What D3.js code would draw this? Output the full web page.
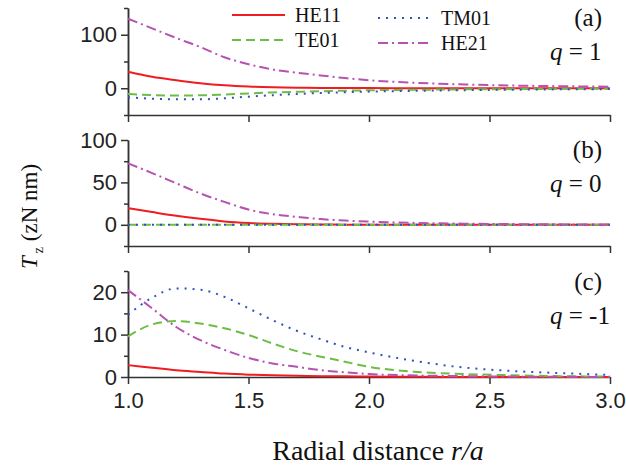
<!DOCTYPE html>
<html>
<head>
<meta charset="utf-8">
<script src="https://cdn.jsdelivr.net/npm/d3@7"></script>
<style>
	body { margin: 0; background: #fff; }
	svg { display: block; }
	.axis path, .axis line { stroke: #333; stroke-width: 1.5; }
	.axis text { font-family: "Liberation Sans", Arial, sans-serif; font-size: 22px; fill: #222; }
	.serif { font-family: "Liberation Serif", "Times New Roman", serif; fill: #111; }
	.curve { fill: none; stroke-width: 2; }
</style>
</head>
<body>
<svg id="chart" width="626" height="468"></svg>
<script>
// радиальная сетка, на которой снимались значения
var rVals = [1.0, 1.1, 1.2, 1.3, 1.4, 1.5, 1.6, 1.7, 1.8, 1.9, 2.0, 2.2, 2.4, 2.6, 2.8, 3.0];

var seriesNames = ["HE11", "TE01", "TM01", "HE21"];
var panelLetters = ["(a)", "(b)", "(c)"];
var qLabels = ["1", "0", "-1"];
var xTicks = [1.0, 1.5, 2.0, 2.5, 3.0];

// (a) q = 1
var he11A = [31, 21.5, 15, 9.5, 5.6, 3.2, 1.8, 1.1, 0.7, 0.4, 0.3, 0.1, 0, 0, 0, 0];
var te01A = [-10.6, -12.8, -13.6, -13.2, -11.7, -9.8, -7.8, -6.6, -5.6, -4.6, -3.7, -2.8, -2.1, -1.6, -1.2, -1];
var tm01A = [-17, -19.5, -20.6, -20.6, -18.8, -15.7, -13, -10.7, -8.8, -7.5, -6.3, -4.7, -3.6, -2.7, -2, -1.6];
var he21A = [130, 112, 94, 77, 58, 45, 35, 29, 24, 19, 15, 10, 7, 5, 3.8, 3];
var yDomainA = [-50, 150], majorA = [0, 100], minorA = [-50, 50, 150];

// (b) q = 0
var he11B = [19.6, 15, 10.6, 7, 4, 2.2, 1.2, 0.6, 0.3, 0.2, 0.1, 0, 0, 0, 0, 0];
var te01B = [0, 0, 0, 0, 0, 0, 0, 0, 0, 0, 0, 0, 0, 0, 0, 0];
var tm01B = [0, 0, 0, 0, 0, 0, 0, 0, 0, 0, 0, 0, 0, 0, 0, 0];
var he21B = [72.5, 61, 49, 37, 27, 18, 12.5, 9.4, 6.7, 5, 3.8, 2.2, 1.3, 0.8, 0.5, 0.3];
var yDomainB = [-25, 100], majorB = [0, 50, 100], minorB = [-25, 25, 75];

// (c) q = -1
var he11C = [2.8, 2.2, 1.6, 1.2, 0.8, 0.55, 0.4, 0.3, 0.2, 0.15, 0.1, 0.05, 0, 0, 0, 0];
var te01C = [9.6, 12.4, 13.2, 12.6, 11.5, 9.9, 7.9, 6.1, 4.8, 3.6, 2.4, 1.2, 0.7, 0.4, 0.2, 0.1];
var tm01C = [14.7, 18.7, 20.9, 20.6, 18.9, 16.2, 13.4, 10.9, 8.9, 7.1, 5.8, 3.7, 2.2, 1.4, 0.9, 0.5];
var he21C = [20.5, 16.2, 11.8, 8.7, 6.4, 4.5, 3.2, 2.4, 1.6, 1.1, 0.7, 0.35, 0.2, 0.1, 0.05, 0];
var yDomainC = [0, 25], majorC = [0, 10, 20], minorC = [5, 15, 25];

var colors = ["#ef1c22", "#6cbd45", "#2f52bd", "#b652b2"];
var dashes = [null, "9,5", "2,6", "10,4,2,4"];

var svg = d3.select("#chart");

// общая шкала x
var x = d3.scaleLinear().domain([1, 3]).range([128, 610]);

var panels = [
	{ data: [he11A, te01A, tm01A, he21A], domain: yDomainA, range: [115, 8], major: majorA, minor: minorA },
	{ data: [he11B, te01B, tm01B, he21B], domain: yDomainB, range: [246, 140], major: majorB, minor: minorB },
	{ data: [he11C, te01C, tm01C, he21C], domain: yDomainC, range: [377, 271], major: majorC, minor: minorC }
];

panels.forEach(function (p, i) {
	var y = d3.scaleLinear().domain(p.domain).range(p.range);
	var g = svg.append("g");
	var last = i === panels.length - 1;

	// ось x
	g.append("g")
		.attr("class", "axis")
		.attr("transform", "translate(0," + p.range[0] + ")")
		.call(d3.axisBottom(x).tickValues(xTicks).tickSize(7).tickSizeOuter(0).tickPadding(8)
			.tickFormat(last ? d3.format(".1f") : function () { return ""; }));

	// ось y: малые и большие деления
	g.append("g")
		.attr("class", "axis")
		.attr("transform", "translate(" + x(1) + ",0)")
		.call(d3.axisLeft(y).tickValues(p.minor).tickSize(4).tickSizeOuter(0).tickFormat(""));
	g.append("g")
		.attr("class", "axis")
		.attr("transform", "translate(" + x(1) + ",0)")
		.call(d3.axisLeft(y).tickValues(p.major).tickSize(7).tickSizeOuter(0).tickPadding(4));

	var line = d3.line()
		.x(function (d, j) { return x(rVals[j]); })
		.y(function (d) { return y(d); })
		.curve(d3.curveMonotoneX);

	g.selectAll(".curve")
		.data(p.data)
		.enter().append("path")
		.attr("class", "curve")
		.attr("stroke", function (d, k) { return colors[k]; })
		.attr("stroke-dasharray", function (d, k) { return dashes[k]; })
		.attr("d", line);

	// подписи панели
	var top = [26, 158, 290][i];
	svg.append("text")
		.attr("class", "serif")
		.attr("x", 602)
		.attr("y", top)
		.attr("text-anchor", "end")
		.attr("font-size", 25)
		.text(panelLetters[i]);
	var qt = svg.append("text")
		.attr("class", "serif")
		.attr("x", 550)
		.attr("y", top + 34)
		.attr("font-size", 25);
	qt.append("tspan").attr("font-style", "italic").text("q");
	qt.append("tspan").text(" = " + qLabels[i]);
});

// легенда
var legX = [232, 378, 232, 378],
	legY = [15, 18, 40, 43],
	legOrder = [0, 2, 1, 3];
legOrder.forEach(function (k, n) {
	svg.append("line")
		.attr("x1", legX[n])
		.attr("x2", legX[n] + 53)
		.attr("y1", legY[n])
		.attr("y2", legY[n])
		.attr("stroke", colors[k])
		.attr("stroke-width", 2)
		.attr("stroke-dasharray", dashes[k]);
	svg.append("text")
		.attr("class", "serif")
		.attr("x", legX[n] + 63)
		.attr("y", legY[n] + 7)
		.attr("font-size", 20)
		.text(seriesNames[k]);
});

// подписи осей
var xl = svg.append("text")
	.attr("class", "serif")
	.attr("x", 378)
	.attr("y", 460)
	.attr("text-anchor", "middle")
	.attr("font-size", 28);
xl.append("tspan").text("Radial distance ");
xl.append("tspan").attr("font-style", "italic").text("r/a");

var yl = svg.append("text")
	.attr("class", "serif")
	.attr("transform", "translate(37,269) rotate(-90)")
	.attr("font-size", 23);
yl.append("tspan").attr("font-style", "italic").text("T");
yl.append("tspan").attr("font-size", 14).attr("dx", 3).attr("dy", 6).text("z");
yl.append("tspan").attr("dy", -6).text(" (zN nm)");
</script>
</body>
</html>
